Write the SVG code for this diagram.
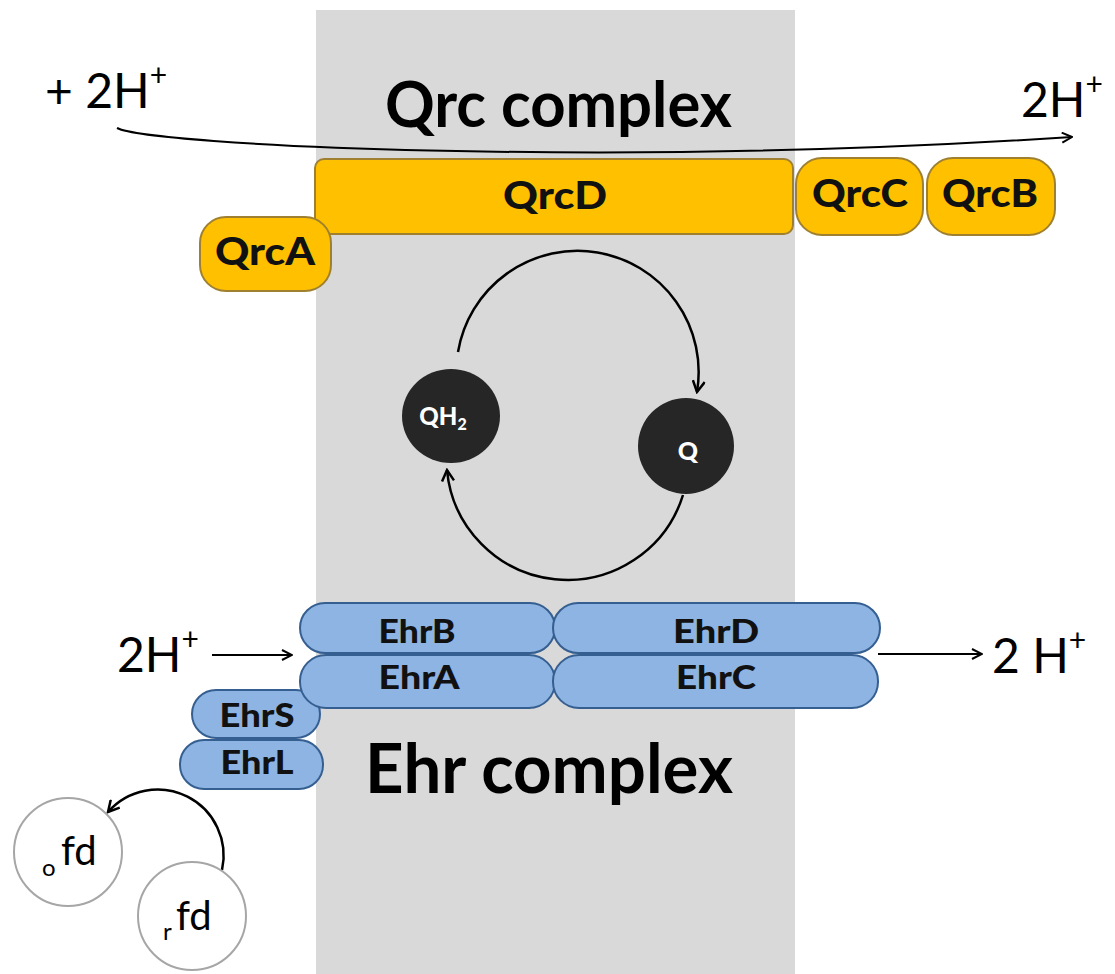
<svg xmlns="http://www.w3.org/2000/svg" width="1115" height="974" viewBox="0 0 1115 974">
<defs>
<style>
.q{fill:#ffc000;stroke:#9e8030;stroke-width:2}
.e{fill:#8db4e2;stroke:#365f91;stroke-width:2}
.lbl{font-family:Lato,"Liberation Sans",sans-serif;font-weight:900;fill:#111;text-anchor:middle}
.big{font-family:Lato,"Liberation Sans",sans-serif;font-weight:bold;fill:#000}
.h{font-family:Lato,"Liberation Sans",sans-serif;fill:#000}
.con{fill:none;stroke:#000;stroke-width:2}
.arc{fill:none;stroke:#000;stroke-width:2.5}
.fdc{fill:#fff;stroke:#a6a6a6;stroke-width:2}
</style>
<marker id="ah" viewBox="0 0 12 12" refX="11" refY="6" markerWidth="12" markerHeight="12" markerUnits="userSpaceOnUse" orient="auto">
<path d="M1,1 L11,6 L1,11" fill="none" stroke="#000" stroke-width="2"/>
</marker>
<marker id="ah2" viewBox="0 0 14 14" refX="12" refY="7" markerWidth="14" markerHeight="14" markerUnits="userSpaceOnUse" orient="auto">
<path d="M1,1 L12,7 L1,13" fill="none" stroke="#000" stroke-width="2.5"/>
</marker>
</defs>
<rect width="1115" height="974" fill="#fff"/>
<rect id="membrane" x="316" y="10" width="479" height="964" fill="#d9d9d9"/>

<g id="labels">
<text class="h" x="45" y="108" font-size="48">+ <tspan>2H</tspan><tspan font-size="30" dy="-22">+</tspan></text>
<text class="h" x="1021" y="117" font-size="48">2H<tspan font-size="30" dy="-22">+</tspan></text>
<text class="big" x="385" y="127" font-size="64" textLength="347" lengthAdjust="spacingAndGlyphs">Qrc complex</text>
<text class="h" x="117" y="672" font-size="48">2H<tspan font-size="30" dy="-22">+</tspan></text>
<text class="h" x="992" y="673" font-size="48">2 H<tspan font-size="30" dy="-22">+</tspan></text>
<text class="big" x="365" y="793" font-size="68" textLength="368" lengthAdjust="spacingAndGlyphs">Ehr complex</text>
</g>

<g id="connectors">
<path class="con" d="M117,128 C150,145 600,168 1072,137" marker-end="url(#ah)"/>
<path class="arc" d="M458,352 A120,120 0 0 1 697,392" marker-end="url(#ah2)"/>
<path class="arc" d="M683,495 A121,121 0 0 1 447,470" marker-end="url(#ah2)"/>
<path class="con" d="M212,655 L292,655" marker-end="url(#ah)"/>
<path class="con" d="M878,654 L982,654" marker-end="url(#ah)"/>
<path class="arc" d="M222,870 A66,66 0 0 0 108,812" marker-end="url(#ah2)"/>
</g>

<g id="QrcD"><rect class="q" x="315" y="159" width="478" height="75" rx="9"/><text class="lbl" x="555" y="209" font-size="37" textLength="104" lengthAdjust="spacingAndGlyphs">QrcD</text></g>
<g id="QrcA"><rect class="q" x="200" y="217" width="131" height="74" rx="26"/><text class="lbl" x="265" y="265" font-size="37" textLength="100" lengthAdjust="spacingAndGlyphs">QrcA</text></g>
<g id="QrcC"><rect class="q" x="796" y="158" width="127" height="77" rx="26"/><text class="lbl" x="860" y="207" font-size="37" textLength="96" lengthAdjust="spacingAndGlyphs">QrcC</text></g>
<g id="QrcB"><rect class="q" x="927" y="158" width="128" height="77" rx="26"/><text class="lbl" x="990" y="207" font-size="37" textLength="96" lengthAdjust="spacingAndGlyphs">QrcB</text></g>

<g id="QH2"><ellipse cx="451" cy="416" rx="49" ry="47" fill="#262626"/><text x="443" y="425" font-family="Lato,'Liberation Sans',sans-serif" font-weight="900" font-size="24" fill="#fff" text-anchor="middle">QH<tspan font-size="16" dy="5">2</tspan></text></g>
<g id="Q"><ellipse cx="686" cy="446" rx="48" ry="48" fill="#262626"/><text x="688" y="460" font-family="Lato,'Liberation Sans',sans-serif" font-weight="900" font-size="25" fill="#fff" text-anchor="middle">Q</text></g>

<g id="EhrS"><rect class="e" x="192" y="690" width="128" height="48" rx="24"/><text class="lbl" x="257" y="727" font-size="32" textLength="75" lengthAdjust="spacingAndGlyphs">EhrS</text></g>
<g id="EhrL"><rect class="e" x="180" y="740" width="143" height="49" rx="24"/><text class="lbl" x="257" y="774" font-size="32" textLength="73" lengthAdjust="spacingAndGlyphs">EhrL</text></g>
<g id="EhrB"><rect class="e" x="300" y="603" width="255" height="50" rx="25"/><text class="lbl" x="417" y="643" font-size="32" textLength="77" lengthAdjust="spacingAndGlyphs">EhrB</text></g>
<g id="EhrA"><rect class="e" x="300" y="655" width="255" height="53" rx="26"/><text class="lbl" x="419" y="689" font-size="32" textLength="81" lengthAdjust="spacingAndGlyphs">EhrA</text></g>
<g id="EhrD"><rect class="e" x="553" y="603" width="327" height="50" rx="25"/><text class="lbl" x="716" y="643" font-size="32" textLength="86" lengthAdjust="spacingAndGlyphs">EhrD</text></g>
<g id="EhrC"><rect class="e" x="553" y="655" width="325" height="53" rx="26"/><text class="lbl" x="716" y="689" font-size="32" textLength="80" lengthAdjust="spacingAndGlyphs">EhrC</text></g>

<g id="ofd"><circle class="fdc" cx="68" cy="852" r="54"/><text class="h" x="42" y="876" font-size="24">o</text><text class="h" x="61" y="865" font-size="40">fd</text></g>
<g id="rfd"><circle class="fdc" cx="192" cy="916" r="54"/><text class="h" x="163" y="940" font-size="24">r</text><text class="h" x="176" y="930" font-size="40">fd</text></g>
</svg>
